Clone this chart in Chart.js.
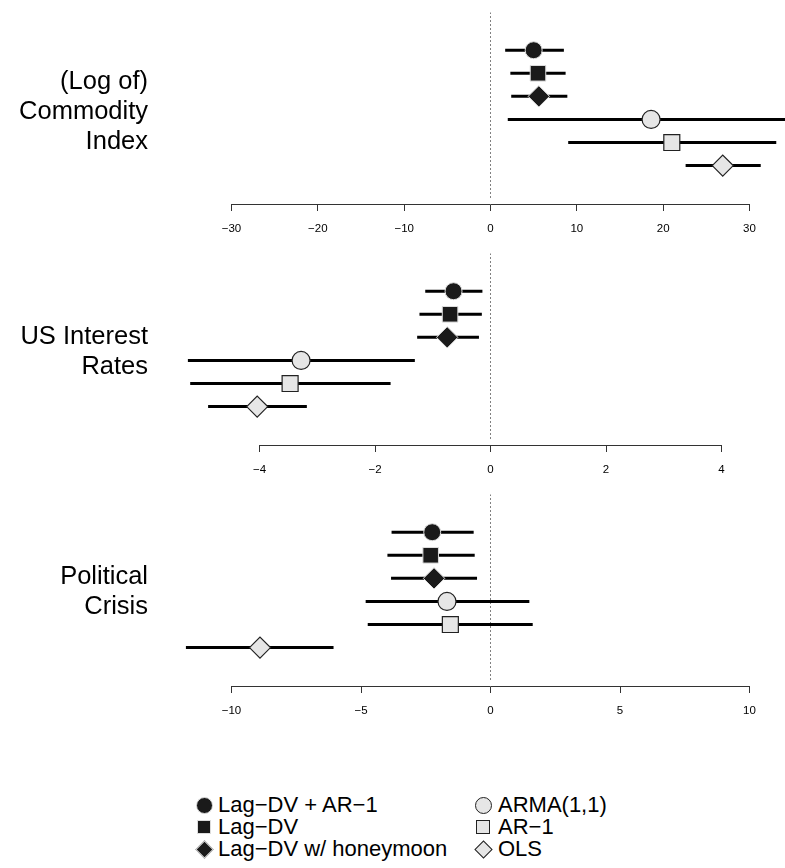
<!DOCTYPE html>
<html>
<head>
<meta charset="utf-8">
<script src="https://cdn.jsdelivr.net/npm/chart.js@4.4.1/dist/chart.umd.min.js"></script>
<style>
  body { margin: 0; background: #fff; font-family: "Liberation Sans", Arial, sans-serif; }
  #wrap { position: relative; width: 785px; height: 868px; overflow: hidden; }
  canvas.panel { position: absolute; left: 0; }
  .label { position: absolute; right: 637px; text-align: right; font-size: 25.5px; line-height: 30px; color: #000; white-space: nowrap; }
  .lg-mark { position: absolute; box-sizing: border-box; }
  .lg-text { position: absolute; font-size: 22px; line-height: 22px; color: #000; white-space: nowrap; }
</style>
</head>
<body>
<div id="wrap">
  <canvas class="panel" id="p1" width="785" height="241" style="top:0px"></canvas>
  <canvas class="panel" id="p2" width="785" height="241" style="top:241px"></canvas>
  <canvas class="panel" id="p3" width="785" height="241" style="top:482px"></canvas>
  <div class="label" style="top:65px">(Log of)<br>Commodity<br>Index</div>
  <div class="label" style="top:320px">US Interest<br>Rates</div>
  <div class="label" style="top:560px">Political<br>Crisis</div>
  <div id="legend"></div>
</div>
<script>
const models = ["Lag\u2212DV + AR\u22121", "Lag\u2212DV", "Lag\u2212DV w/ honeymoon", "ARMA(1,1)", "AR\u22121", "OLS"];

// (Log of) Commodity Index
const commodityEst = [5.0, 5.5, 5.6, 18.6, 21.0, 26.9];
const commodityLo  = [1.7, 2.3, 2.4, 2.0, 9.0, 22.6];
const commodityHi  = [8.5, 8.7, 8.9, 34.5, 33.1, 31.3];
const commodityTicks = [-30, -20, -10, 0, 10, 20, 30];

// US Interest Rates
const ratesEst = [-0.64, -0.70, -0.75, -3.28, -3.47, -4.04];
const ratesLo  = [-1.13, -1.23, -1.27, -5.24, -5.20, -4.89];
const ratesHi  = [-0.14, -0.15, -0.20, -1.31, -1.73, -3.18];
const ratesTicks = [-4, -2, 0, 2, 4];

// Political Crisis
const crisisEst = [-2.25, -2.31, -2.18, -1.68, -1.55, -8.9];
const crisisLo  = [-3.82, -3.98, -3.84, -4.82, -4.74, -11.76];
const crisisHi  = [-0.65, -0.61, -0.52, 1.5, 1.63, -6.06];
const crisisTicks = [-10, -5, 0, 5, 10];

const shapes = ["circle", "rect", "rectRot", "circle", "rect", "rectRot"];
const radii  = [8.5, 11, 10.7, 9, 11.3, 10.5];
const dark = "#1a1a1a", light = "#e6e6e6";
const family = "'Liberation Sans', Arial, sans-serif";

// row 1 sits at y = 49, rows 23.26px apart, axis at 204
const yMin = -0.634, yMax = 7.664;

function makePanel(id, est, lo, hi, ticks, padLeft, padRight) {
    const datasets = [];

    est.forEach((v, i) => {
        const filled = i < 3;
        datasets.push({
            data: [{ x: v, y: i + 1 }],
            pointStyle: shapes[i],
            pointRadius: radii[i],
            backgroundColor: filled ? dark : light,
            borderColor: filled ? "#dddddd" : "#222222",
            borderWidth: filled ? 1 : 1.2,
            order: 0,
            clip: false
        });
    });

    lo.forEach((v, i) => {
        datasets.push({
            data: [{ x: v, y: i + 1 }, { x: hi[i], y: i + 1 }],
            showLine: true,
            borderColor: "#000",
            borderWidth: 3,
            pointRadius: 0,
            order: 1,
            clip: false
        });
    });

    // dotted zero line
    datasets.push({
        data: [{ x: 0, y: yMin }, { x: 0, y: 7.49 }],
        showLine: true,
        borderColor: "#000",
        borderWidth: 1,
        borderDash: [1, 3],
        pointRadius: 0,
        order: 2
    });

    new Chart(document.getElementById(id), {
        type: "scatter",
        data: { datasets },
        options: {
            responsive: false,
            animation: false,
            events: [],
            layout: { padding: { left: padLeft, right: padRight, top: 11, bottom: 0 } },
            plugins: { legend: { display: false }, tooltip: { enabled: false } },
            scales: {
                x: {
                    type: "linear",
                    min: ticks[0],
                    max: ticks[ticks.length - 1],
                    afterBuildTicks: s => { s.ticks = ticks.map(v => ({ value: v })); },
                    afterFit: s => { s.height = 37; },
                    grid: { drawOnChartArea: false, tickLength: 7, color: "#333", lineWidth: 1 },
                    border: { color: "#333", width: 1 },
                    ticks: {
                        color: "#000",
                        padding: 11,
                        maxRotation: 0,
                        font: { size: 11.5, family },
                        callback: v => String(v).replace("-", "\u2212")
                    }
                },
                y: { type: "linear", min: yMin, max: yMax, reverse: true, display: false }
            }
        }
    });
}

makePanel("p1", commodityEst, commodityLo, commodityHi, commodityTicks, 231.5, 35.5);
makePanel("p2", ratesEst, ratesLo, ratesHi, ratesTicks, 259.5, 63.5);
makePanel("p3", crisisEst, crisisLo, crisisHi, crisisTicks, 231.5, 35.5);

// legend, two columns of three
const legend = document.getElementById("legend");
models.forEach((name, i) => {
    const col = i < 3 ? 0 : 1;
    const row = i % 3;
    const cx = col ? 483 : 204;
    const cy = 805 + row * 22;
    const filled = i < 3;
    const m = document.createElement("div");
    m.className = "lg-mark";
    let size = 17;
    if (shapes[i] === "rect") size = 14;
    if (shapes[i] === "rectRot") size = 13;
    m.style.width = size + "px";
    m.style.height = size + "px";
    m.style.left = (cx - size / 2) + "px";
    m.style.top = (cy - size / 2) + "px";
    m.style.background = filled ? dark : light;
    m.style.border = filled ? "1px solid #ddd" : "1px solid #222";
    if (shapes[i] === "circle") m.style.borderRadius = "50%";
    if (shapes[i] === "rectRot") m.style.transform = "rotate(45deg)";
    legend.appendChild(m);

    const t = document.createElement("div");
    t.className = "lg-text";
    t.textContent = name;
    t.style.left = (col ? 498 : 218) + "px";
    t.style.top = (cy - 11) + "px";
    legend.appendChild(t);
});
</script>
</body>
</html>
